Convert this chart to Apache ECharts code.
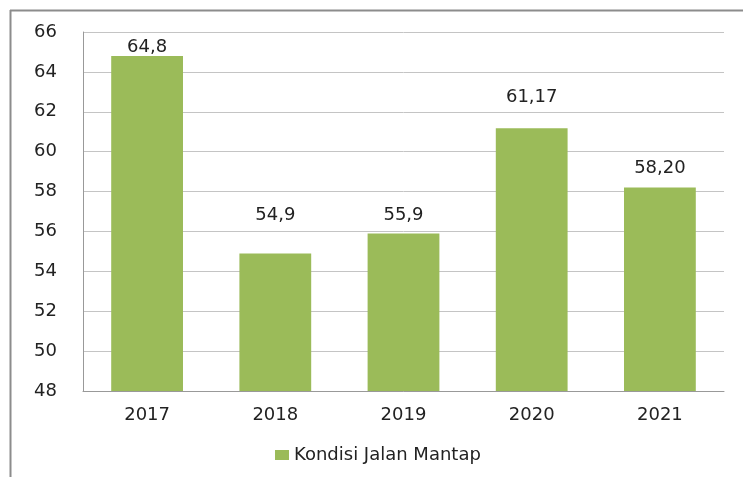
<!DOCTYPE html>
<html lang="id">
<head>
    <meta charset="UTF-8">
    <title>Kondisi Jalan Mantap</title>
    <script src="https://cdn.jsdelivr.net/npm/echarts@6.0.0/dist/echarts.min.js"></script>
    <style>
        html, body { margin: 0; padding: 0; background: #fff; }
        #chart { width: 743px; height: 477px; }
    </style>
</head>
<body>
    <div id="chart"></div>
    <script>
        const tahun = ['2017', '2018', '2019', '2020', '2021'];
        const nilai = [64.8, 54.9, 55.9, 61.17, 58.20];
        const labelNilai = ['64,8', '54,9', '55,9', '61,17', '58,20'];
        const namaSeri = 'Kondisi Jalan Mantap';

        // jarak label di atas batang (posisi label di gambar asli tidak seragam)
        const jarakLabel = [0, 29, 9, 22, 10];

        const chart = echarts.init(document.getElementById('chart'));
        const font = 'DejaVu Sans, Verdana, sans-serif';
        const warnaTeks = '#222';

        const option = {
            animation: false,
            textStyle: { fontFamily: font },
            // bingkai luar
            graphic: [
                { type: 'line', shape: { x1: 10, y1: 10.5, x2: 743, y2: 10.5 }, style: { stroke: '#8c8c8c', lineWidth: 2 } },
                { type: 'line', shape: { x1: 10.5, y1: 10, x2: 10.5, y2: 477 }, style: { stroke: '#8c8c8c', lineWidth: 2 } }
            ],
            grid: { left: 83, right: 19, top: 32, bottom: 86 },
            legend: {
                bottom: 8,
                left: 270,
                itemWidth: 14,
                itemHeight: 10,
                itemGap: 6,
                icon: 'rect',
                textStyle: { fontSize: 18, color: warnaTeks, fontFamily: font },
                data: [namaSeri]
            },
            xAxis: {
                type: 'category',
                data: tahun,
                axisLine: { lineStyle: { color: '#999' } },
                axisTick: { show: false },
                axisLabel: { fontSize: 18, color: warnaTeks, margin: 15, fontFamily: font }
            },
            yAxis: {
                type: 'value',
                min: 48,
                max: 66,
                interval: 2,
                axisLine: { show: true, lineStyle: { color: '#999' } },
                axisTick: { show: false },
                axisLabel: { fontSize: 18, color: warnaTeks, margin: 26, fontFamily: font },
                splitLine: { lineStyle: { color: '#c4c4c4' } }
            },
            series: [{
                name: namaSeri,
                type: 'bar',
                data: nilai.map((v, i) => ({ value: v, label: { distance: jarakLabel[i] } })),
                barWidth: '56%',
                itemStyle: { color: '#9bbb59' },
                label: {
                    show: true,
                    position: 'top',
                    fontSize: 18,
                    color: warnaTeks,
                    fontFamily: font,
                    formatter: p => labelNilai[p.dataIndex]
                }
            }]
        };

        chart.setOption(option);
    </script>
</body>
</html>
